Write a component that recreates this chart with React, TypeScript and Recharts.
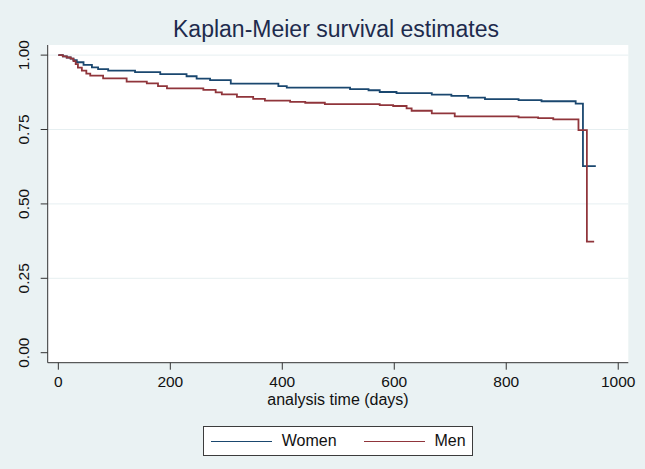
import React from "react";
import { CartesianGrid, Legend, Line, LineChart, XAxis, YAxis } from "recharts";

// Kaplan-Meier step estimates
const womenDays = [0, 8, 15, 22, 27, 33, 45, 60, 71, 89, 137, 182, 229, 247, 271, 308, 393, 408, 521, 554, 574, 604, 667, 702, 732, 762, 822, 863, 924, 937, 960];
const womenSurv = [1.0, 0.996, 0.992, 0.988, 0.983, 0.976, 0.967, 0.959, 0.953, 0.948, 0.943, 0.936, 0.929, 0.921, 0.916, 0.904, 0.896, 0.891, 0.886, 0.882, 0.876, 0.872, 0.867, 0.863, 0.857, 0.852, 0.849, 0.845, 0.837, 0.627, 0.627];

const menDays = [0, 8, 15, 22, 27, 31, 35, 42, 50, 57, 80, 122, 158, 178, 194, 259, 281, 292, 319, 348, 369, 414, 441, 476, 574, 598, 622, 631, 667, 708, 822, 857, 884, 929, 944, 957];
const menSurv = [1.0, 0.996, 0.992, 0.988, 0.98, 0.97, 0.958, 0.948, 0.938, 0.931, 0.922, 0.911, 0.905, 0.896, 0.888, 0.883, 0.875, 0.868, 0.86, 0.853, 0.847, 0.843, 0.84, 0.835, 0.832, 0.829, 0.821, 0.813, 0.804, 0.794, 0.791, 0.788, 0.784, 0.748, 0.373, 0.373];

const xTicks = [0, 200, 400, 600, 800, 1000];
const yTicks = [0, 0.25, 0.5, 0.75, 1];
const gridValues = [0.25, 0.5, 0.75, 1];

const seriesNames = ["Women", "Men"];
const seriesColors = ["#1a476f", "#90353b"];

const women = womenDays.map((day, i) => ({ day, s: womenSurv[i] }));
const men = menDays.map((day, i) => ({ day, s: menSurv[i] }));

const font = "'Liberation Sans', Arial, sans-serif";
const bg = "#eaf2f3";

function YTick(props: any) {
  const { x, y, payload } = props;
  return (
    <text
      transform={`translate(${x - 15}, ${y}) rotate(-90)`}
      textAnchor="middle"
      dy="0.36em"
      fontSize={15.5}
      fontFamily={font}
      fill="#111"
    >
      {payload.value.toFixed(2)}
    </text>
  );
}

function KMLegend() {
  return (
    <div
      style={{
        width: 268,
        height: 28,
        border: "1px solid #3c3c3c",
        background: "#fff",
        display: "flex",
        alignItems: "center",
        fontFamily: font,
        fontSize: 16,
        color: "#111",
        boxSizing: "content-box"
      }}
    >
      {seriesNames.map((name, i) => (
        <div key={name} style={{ display: "flex", alignItems: "center", marginLeft: i === 0 ? 7 : 27 }}>
          <div style={{ width: 61, height: 0, borderTop: `1.6px solid ${seriesColors[i]}` }} />
          <span style={{ marginLeft: 10 }}>{name}</span>
        </div>
      ))}
    </div>
  );
}

export default function App() {
  return (
    <div style={{ position: "fixed", left: 0, top: 0, width: 645, height: 469, background: bg, overflow: "hidden" }}>
      <div
        style={{
          position: "absolute",
          left: 336,
          top: 18,
          transform: "translateX(-50%)",
          whiteSpace: "nowrap",
          fontFamily: font,
          fontSize: 23,
          lineHeight: "23px",
          color: "#1e2b4d"
        }}
      >
        Kaplan-Meier survival estimates
      </div>
      <LineChart width={645} height={469} margin={{ top: 45, right: 16.7, left: 0, bottom: 64.3 }}>
        <CartesianGrid horizontal vertical={false} horizontalValues={gridValues} stroke="#e6eff1" fill="#ffffff" />
        <XAxis
          type="number"
          dataKey="day"
          domain={[-19, 1018]}
          ticks={xTicks}
          allowDataOverflow
          height={42}
          tickSize={7}
          tickMargin={6}
          stroke="#333"
          tick={{ fill: "#111", fontSize: 15.5, fontFamily: font }}
          label={{ value: "analysis time (days)", position: "insideBottom", offset: 0, fill: "#111", fontSize: 16, fontFamily: font }}
        />
        <YAxis
          type="number"
          domain={[-0.0336, 1.034]}
          ticks={yTicks}
          allowDataOverflow
          width={47.7}
          tickSize={7}
          stroke="#333"
          tick={<YTick />}
        />
        <Line data={women} dataKey="s" name={seriesNames[0]} type="stepAfter" stroke={seriesColors[0]} strokeWidth={1.8} dot={false} isAnimationActive={false} />
        <Line data={men} dataKey="s" name={seriesNames[1]} type="stepAfter" stroke={seriesColors[1]} strokeWidth={1.8} dot={false} isAnimationActive={false} />
        <Legend
          layout="horizontal"
          verticalAlign="middle"
          align="center"
          content={() => <KMLegend />}
          wrapperStyle={{ position: "absolute", left: 202.7, top: 426, width: 270, height: 30 }}
        />
      </LineChart>
    </div>
  );
}
